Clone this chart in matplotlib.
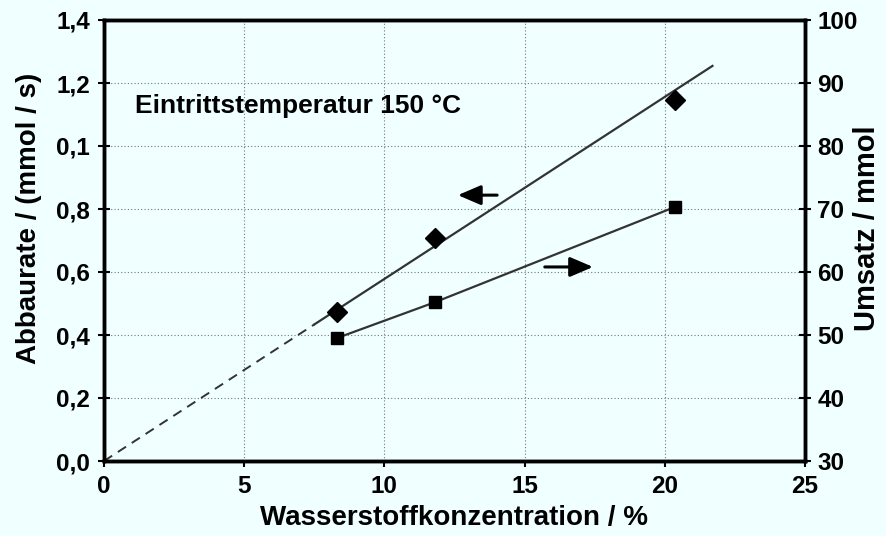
import numpy as np
import matplotlib
matplotlib.use('Agg')
import matplotlib.pyplot as plt

plt.rcParams['font.family'] = ['Liberation Sans', 'DejaVu Sans']
plt.rcParams['font.weight'] = 'bold'

# data
h2_conc = [8.3, 11.8, 20.35]
abbaurate = [0.473, 0.708, 1.146]      # mmol/s, left axis
umsatz = [49.5, 55.2, 70.3]            # mmol, right axis
fit_slope = 0.0578                      # Abbaurate per % H2, line through origin
fit_dash_end = 7.5
fit_end = 21.7

x_ticks = [0, 5, 10, 15, 20, 25]
left_ticks = [0.0, 0.2, 0.4, 0.6, 0.8, 1.0, 1.2, 1.4]
left_labels = ['0,0', '0,2', '0,4', '0,6', '0,8', '0,1', '1,2', '1,4']
right_ticks = [30, 40, 50, 60, 70, 80, 90, 100]

bg = '#F0FFFF'
fig = plt.figure(figsize=(8.87, 5.36), dpi=100, facecolor=bg)
ax = fig.add_axes([104 / 887, 1 - 461 / 536, 701 / 887, 441 / 536])
ax.set_facecolor(bg)
ax2 = ax.twinx()

ax.set_xlim(0, 25)
ax.set_ylim(0, 1.4)
ax2.set_ylim(30, 100)

ax.set_xticks(x_ticks)
ax.set_yticks(left_ticks)
ax.set_yticklabels(left_labels)
ax2.set_yticks(right_ticks)

ax.grid(True, color='#777777', linestyle=(0, (1, 2)), linewidth=0.8)
ax.set_axisbelow(True)

for a in (ax, ax2):
    for s in a.spines.values():
        s.set_linewidth(2.5)
ax.tick_params(axis='y', direction='inout', length=8, width=1.5,
               labelsize=17.5, pad=6)
ax.tick_params(axis='x', direction='out', length=4, width=1.5,
               labelsize=17.5, pad=6)
ax2.tick_params(axis='y', direction='inout', length=8, width=1.5,
                labelsize=17.5, pad=5)

# fit line for Abbaurate: dashed near origin, solid afterwards
xd = np.array([0, fit_dash_end])
ax.plot(xd, fit_slope * xd, color='#333333', lw=1.4, ls=(0, (5, 3.5)))
xs = np.array([fit_dash_end, fit_end])
ax.plot(xs, fit_slope * xs, color='#333333', lw=1.6)
ax.plot(h2_conc, abbaurate, ls='none', marker='D', ms=10.5, color='black')

ax2.plot(h2_conc, umsatz, color='#333333', lw=1.6, marker='s', ms=8,
         mfc='black', mec='black')

arrow = dict(arrowstyle='-|>,head_length=0.7,head_width=0.3', color='black',
             lw=2.2, mutation_scale=20, shrinkA=0, shrinkB=0)
ax.annotate('', xy=(12.62, 0.844), xytext=(14.02, 0.844), arrowprops=arrow)
ax.annotate('', xy=(17.44, 0.616), xytext=(15.72, 0.616), arrowprops=arrow)

ax.text(1.1, 1.127, 'Eintrittstemperatur 150 °C', fontsize=19,
        fontweight='bold', va='center')

ax.set_xlabel('Wasserstoffkonzentration / %', fontsize=20, fontweight='bold')
ax.xaxis.set_label_coords(0.5, -0.10)
ax.set_ylabel('Abbaurate / (mmol / s)', fontsize=20, fontweight='bold')
ax.yaxis.set_label_coords(-0.088, 0.551)
ax2.set_ylabel('Umsatz / mmol', fontsize=21, fontweight='bold')
ax2.yaxis.set_label_coords(1.0685, 0.528)

fig.savefig('out.png', dpi=100, facecolor=bg)
